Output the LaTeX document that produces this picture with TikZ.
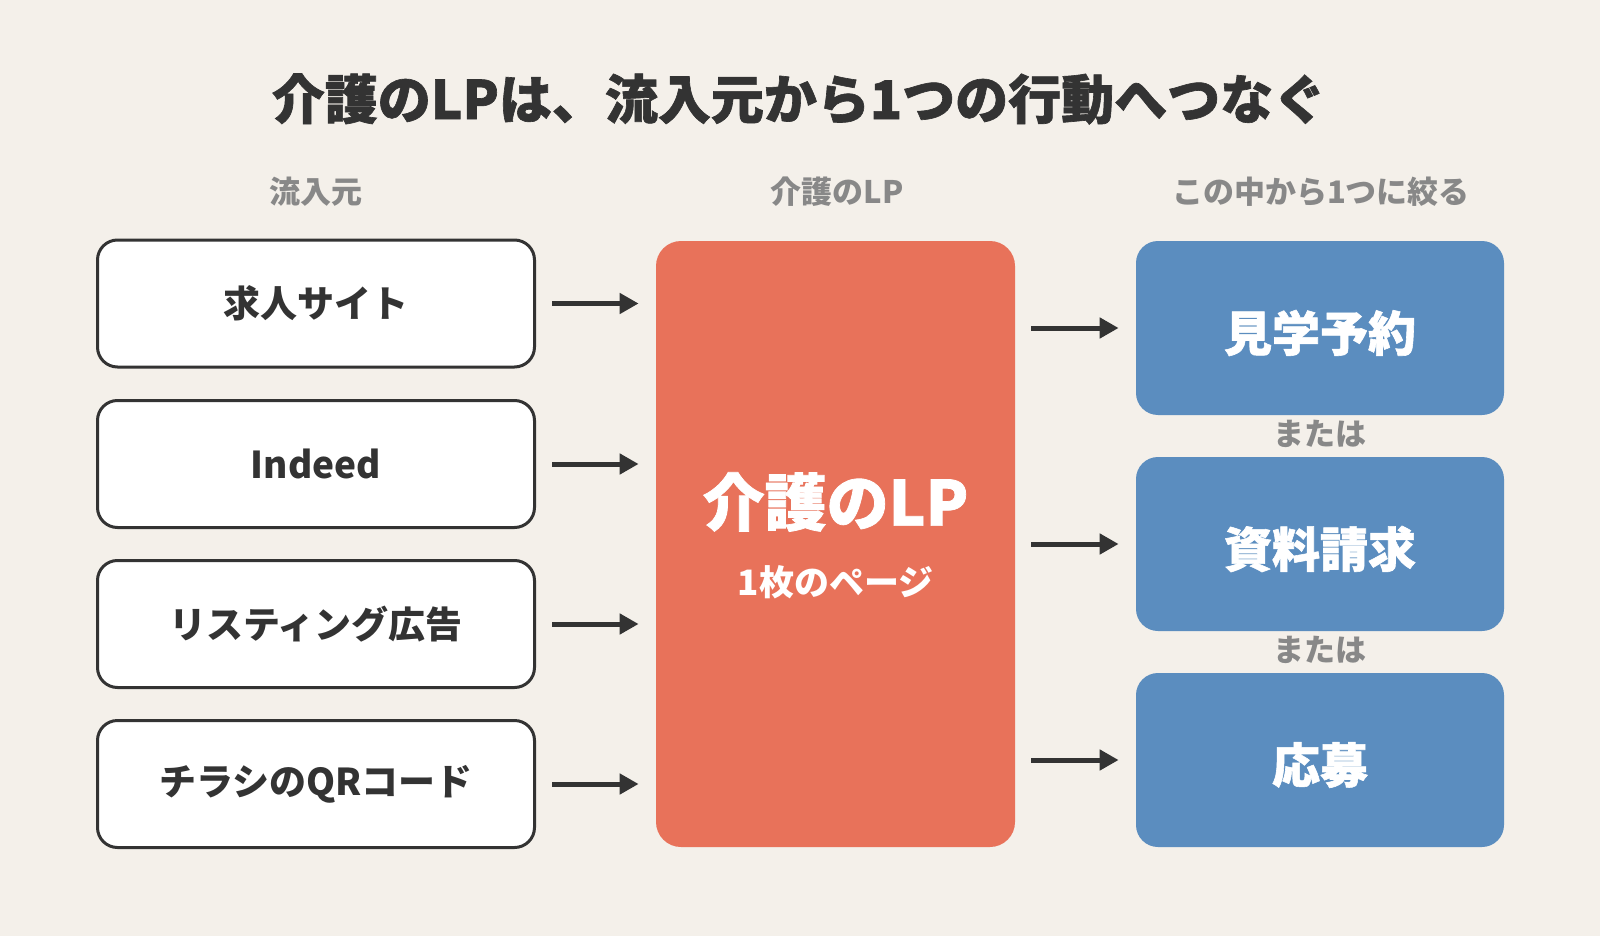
\documentclass[tikz,border=0pt]{standalone}
\usepackage{fontspec}
\setmainfont{Noto Sans CJK JP}
\newfontfamily\cjkblack{Noto Sans CJK JP Black}[FakeBold=1.2]
\usetikzlibrary{arrows.meta}
\definecolor{bgcol}{HTML}{F4F0EA}
\definecolor{inkcol}{HTML}{333333}
\definecolor{greycol}{HTML}{888888}
\definecolor{lpcol}{HTML}{E8725A}
\definecolor{actcol}{HTML}{5B8DBF}
\begin{document}
\begin{tikzpicture}[x=1pt, y=-1pt, thick,
    src node/.style={rectangle, rounded corners=20pt, draw=inkcol, line width=3pt, fill=white,
        minimum width=437pt, minimum height=127pt, text=inkcol, font=\fontsize{37}{42}\selectfont\bfseries},
    lp node/.style={rectangle, rounded corners=25pt, fill=lpcol, minimum width=359pt, minimum height=606pt},
    act node/.style={rectangle, rounded corners=22pt, fill=actcol, minimum width=368pt, minimum height=174pt},
    act text/.style={text=white, font=\fontsize{48}{54}\selectfont\cjkblack},
    head node/.style={text=greycol, font=\fontsize{31}{36}\selectfont\bfseries},
    flow/.style={draw=inkcol, line width=5pt, -{Triangle[length=19pt,width=20pt]}, shorten <=16pt, shorten >=17pt}]

    \fill[bgcol] (0,0) rectangle (1600,936);
    \useasboundingbox (0,0) rectangle (1600,936);

    \node[text=inkcol, font=\fontsize{53}{58}\selectfont\cjkblack] at (799, 99) (title) {介護のLPは、流入元から1つの行動へつなぐ};

    \node[head node] at (316, 192) (h1) {流入元};
    \node[head node] at (837, 192) (h2) {介護のLP};
    \node[head node] at (1321, 192) (h3) {この中から1つに絞る};

    \node[src node] at (316, 303.5) (s1) {求人サイト};
    \node[src node] at (316, 464) (s2) {Indeed};
    \node[src node] at (316, 624) (s3) {リスティング広告};
    \node[src node] at (316, 784) (s4) {チラシのQRコード};

    \node[lp node] at (835.5, 544) (lp) {};
    \node[text=white, font=\fontsize{62}{68}\selectfont\cjkblack] at (835.5, 502) (lpname) {介護のLP};
    \node[text=white, font=\fontsize{35}{40}\selectfont\bfseries] at (835.5, 582) (lpsub) {1枚のページ};

    \node[act node] at (1320, 328) (a1) {};
    \node[act node] at (1320, 544) (a2) {};
    \node[act node] at (1320, 760) (a3) {};
    \node[act text] at (1320, 333) (a1txt) {見学予約};
    \node[act text] at (1320, 549) (a2txt) {資料請求};
    \node[act text] at (1320, 765) (a3txt) {応募};

    \node[head node] at (1320, 434) (or1) {または};
    \node[head node] at (1320, 650) (or2) {または};

    \path (s1.east) edge[flow] (lp.west |- s1.east);
    \path (s2.east) edge[flow] (lp.west |- s2.east);
    \path (s3.east) edge[flow] (lp.west |- s3.east);
    \path (s4.east) edge[flow] (lp.west |- s4.east);
    \path (lp.east |- a1.west) edge[flow] (a1.west);
    \path (lp.east |- a2.west) edge[flow] (a2.west);
    \path (lp.east |- a3.west) edge[flow] (a3.west);
\end{tikzpicture}
\end{document}
